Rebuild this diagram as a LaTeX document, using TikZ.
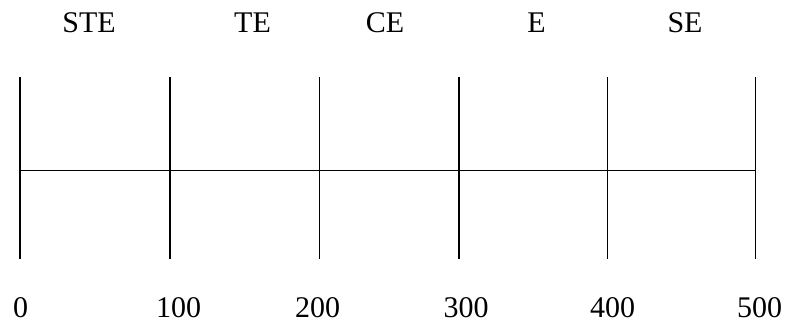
\documentclass[tikz,border=0pt]{standalone}
\usepackage{fontspec}
\setmainfont{Liberation Serif}
\begin{document}
\begin{tikzpicture}[x=1pt,y=-1pt,
  lbl/.style={anchor=base,inner sep=0pt,font=\fontsize{30}{36}\selectfont},
  axis/.style={line width=1.8pt,black}]
\useasboundingbox (0,0) rectangle (788,323);
% tick positions
\foreach \i/\x in {0/20,1/170,2/319.5,3/459.3,4/607.5,5/755.5}{
  \coordinate (t\i) at (\x,77);
  \coordinate (m\i) at (\x,170.5);
  \coordinate (b\i) at (\x,259);
}
\foreach \i in {0,...,5}{\draw[axis] (t\i) -- (b\i);}
\draw[axis] (m0) -- (m5);
% top labels
\node[lbl] (ste) at (89,33) {STE};
\node[lbl] (te) at (252.5,33) {TE};
\node[lbl] (ce) at (385,33) {CE};
\node[lbl] (e) at (536.5,33) {E};
\node[lbl] (se) at (685,33) {SE};
% bottom labels
\node[lbl] (n0) at (20.5,318) {0};
\node[lbl] (n1) at (178.5,318) {100};
\node[lbl] (n2) at (317.5,318) {200};
\node[lbl] (n3) at (466,318) {300};
\node[lbl] (n4) at (612.5,318) {400};
\node[lbl] (n5) at (759.5,318) {500};
\end{tikzpicture}
\end{document}
